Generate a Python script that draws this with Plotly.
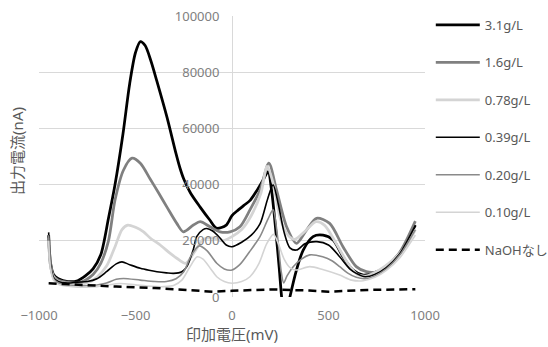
import plotly.graph_objects as go

# ---------------- data (mV, nA) ----------------
x_31 = [-950, -940, -925, -900, -850, -800, -760, -720, -680, -640, -606, -565, -530, -500, -475, -450,
        -420, -390, -337, -290, -270, -250, -215, -165, -115, -80, -30, 0, 33, 60, 95, 130, 160, 187, 205,
        225, 245, 257, 268, 282, 300, 334, 369, 420, 472, 524, 575, 627, 680, 730, 800, 868, 950]
y_31 = [22000, 12000, 8000, 6500, 5500, 5800, 7500, 10000, 15000, 28000, 40000, 58000, 76000, 87000, 90900,
        89500, 84000, 77000, 64000, 51000, 46000, 42000, 37000, 32000, 27400, 24500, 25600, 29000, 31000,
        32500, 34500, 38000, 41500, 44600, 38000, 25000, 10000, 0, -6000, -6000, 0, 9600, 16700, 21500,
        22000, 20300, 14300, 9600, 7800, 8400, 10800, 15500, 25600]

x_16 = [-950, -940, -925, -900, -850, -800, -760, -720, -680, -640, -606, -562, -518, -475, -424, -380,
        -337, -286, -252, -200, -165, -114, -62, -10, 41, 93, 145, 191, 231, 283, 334, 386, 438, 506, 575,
        644, 696, 750, 800, 870, 950]
y_16 = [21000, 11000, 7500, 6000, 5200, 5000, 6000, 8000, 12000, 20000, 34500, 45200, 49400, 47600, 42000,
        37000, 32000, 26200, 23200, 25600, 26800, 25000, 23200, 23200, 25000, 31000, 38000, 47600, 38000,
        25000, 19100, 23800, 28000, 26200, 17900, 10800, 9000, 9000, 11000, 16000, 27000]

x_078 = [-950, -940, -925, -900, -850, -800, -750, -700, -650, -606, -570, -540, -500, -458, -424, -372,
         -320, -286, -240, -190, -150, -100, -50, 0, 50, 100, 150, 182, 215, 250, 290, 325, 380, 435, 480,
         540, 600, 650, 700, 760, 830, 900, 950]
y_078 = [20000, 11000, 7000, 5500, 4800, 4500, 5000, 7000, 11000, 17900, 24000, 25600, 24800, 23200, 21000,
         18500, 15500, 13800, 12000, 16500, 20500, 21000, 20000, 21500, 24000, 29000, 37000, 46500, 40000,
         28000, 22000, 20500, 23500, 26800, 25500, 19000, 12000, 8000, 7500, 9500, 13000, 18000, 24000]

x_039 = [-950, -940, -925, -900, -850, -800, -750, -700, -650, -600, -570, -530, -475, -430, -389, -340,
         -303, -260, -234, -200, -183, -150, -131, -100, -62, -30, 0, 50, 100, 145, 185, 213, 240, 270, 300,
         334, 380, 440, 500, 558, 610, 644, 690, 740, 800, 870, 950]
y_039 = [23000, 12000, 7000, 5500, 5000, 5300, 5500, 6500, 9000, 11800, 12500, 11500, 10200, 9500, 9000,
         8600, 8400, 9000, 10800, 17000, 21500, 24000, 24400, 23500, 21000, 18500, 17900, 19500, 22000,
         26000, 35000, 39900, 33000, 23000, 17500, 16700, 19000, 19700, 18500, 14300, 10000, 8400, 7200,
         8000, 10500, 15500, 25500]

x_020 = [-950, -940, -925, -900, -850, -800, -750, -700, -650, -600, -562, -475, -400, -340, -290, -250,
         -210, -170, -130, -79, -40, 0, 40, 90, 145, 185, 213, 235, 255, 268, 285, 317, 360, 403, 470, 520,
         558, 600, 644, 690, 740, 800, 870, 950]
y_020 = [22000, 11000, 6500, 5000, 4300, 4000, 4000, 4300, 5000, 6300, 6600, 6000, 5500, 5500, 6500, 9000,
         15000, 18200, 16500, 12000, 10000, 9600, 11500, 16000, 21500, 27500, 31000, 22000, 9000, 5000,
         7500, 10800, 13500, 15000, 14300, 12800, 10800, 8500, 7000, 6500, 7500, 10000, 15000, 24000]

x_010 = [-950, -940, -925, -900, -850, -800, -750, -700, -650, -580, -500, -420, -350, -300, -260, -220,
         -180, -150, -110, -79, -40, 0, 50, 93, 140, 180, 215, 240, 270, 300, 330, 403, 470, 558, 620, 680,
         740, 800, 870, 950]
y_010 = [20000, 10000, 6000, 4500, 3800, 3500, 3500, 3700, 4200, 4800, 4300, 3800, 3700, 4200, 6000, 10500,
         14300, 13500, 10000, 7200, 5500, 4900, 5500, 7200, 12000, 19000, 22300, 19000, 13500, 10500, 9600,
         10800, 9800, 7800, 6000, 5800, 7000, 9500, 14000, 22000]

x_naoh = [-950, -800, -600, -400, -250, -100, 0, 200, 400, 500, 700, 950]
y_naoh = [4900, 4300, 3700, 3200, 2500, 1900, 2200, 2700, 2300, 1900, 2500, 2800]

series_names = ["3.1g/L", "1.6g/L", "0.78g/L", "0.39g/L", "0.20g/L", "0.10g/L", "NaOHなし"]
x_ticks = [-1000, -500, 0, 500, 1000]
y_ticks = [0, 20000, 40000, 60000, 80000, 100000]
x_title = "印加電圧(mV)"
y_title = "出力電流(nA)"

# ---------------- figure ----------------
xs = [x_31, x_16, x_078, x_039, x_020, x_010, x_naoh]
ys = [y_31, y_16, y_078, y_039, y_020, y_010, y_naoh]
styles = [
    dict(color="#000000", width=2.75, dash="solid"),
    dict(color="#808080", width=2.75, dash="solid"),
    dict(color="#d4d4d4", width=2.75, dash="solid"),
    dict(color="#000000", width=1.6, dash="solid"),
    dict(color="#8a8a8a", width=1.6, dash="solid"),
    dict(color="#d4d4d4", width=1.6, dash="solid"),
    dict(color="#000000", width=2.5, dash="8px,5px"),
]

FONT = "Noto Sans, Noto Sans CJK JP, sans-serif"
fig = go.Figure()
for i, (xv, yv, name, st) in enumerate(zip(xs, ys, series_names, styles)):
    shape = "spline" if i < 6 else "linear"
    fig.add_trace(go.Scatter(
        x=xv, y=yv, name=name, mode="lines", legendgroup=f"g{i}",
        line=dict(color=st["color"], width=st["width"], dash=st["dash"], shape=shape,
                  **({"smoothing": 0.8} if shape == "spline" else {})),
    ))

fig.update_layout(
    width=548, height=347, autosize=False,
    margin=dict(l=39, r=123, t=16, b=50, autoexpand=False),
    paper_bgcolor="white", plot_bgcolor="white",
    font=dict(family=FONT, color="#595959", size=13),
    showlegend=True,
    legend=dict(
        x=1.015, xanchor="left", y=1.022, yanchor="top",
        traceorder="grouped", tracegroupgap=17.6, maxheight=400,
        font=dict(family=FONT, size=13, color="#595959"),
        bgcolor="rgba(0,0,0,0)", itemwidth=44,
    ),
    xaxis=dict(
        range=[-1000, 1000], tickvals=x_ticks, showgrid=False, automargin=False,
        zeroline=True, zerolinecolor="#d9d9d9", zerolinewidth=1,
        showline=False, ticks="outside", ticklen=6, tickcolor="rgba(0,0,0,0)",
        tickfont=dict(family=FONT, size=13, color="#808080"),
        title=dict(text=x_title, font=dict(family=FONT, size=15, color="#595959"), standoff=5),
    ),
    yaxis=dict(
        range=[0, 100000], tickvals=y_ticks, tickformat="d", automargin=False,
        showgrid=True, gridcolor="#d9d9d9", gridwidth=1, zeroline=False,
        anchor="free", position=0.5, showline=False,
        ticks="outside", ticklen=10, tickcolor="rgba(0,0,0,0)",
        tickfont=dict(family=FONT, size=13, color="#808080"),
    ),
    annotations=[dict(
        text=y_title, textangle=-90, xref="paper", yref="paper",
        x=-0.057, y=0.52, xanchor="center", yanchor="middle", showarrow=False,
        font=dict(family=FONT, size=15, color="#595959"),
    )],
)

fig.write_html(
    "out.html",
    config={"displayModeBar": False},
    post_script="document.body.style.margin='0';document.body.style.overflow='hidden';",
)
